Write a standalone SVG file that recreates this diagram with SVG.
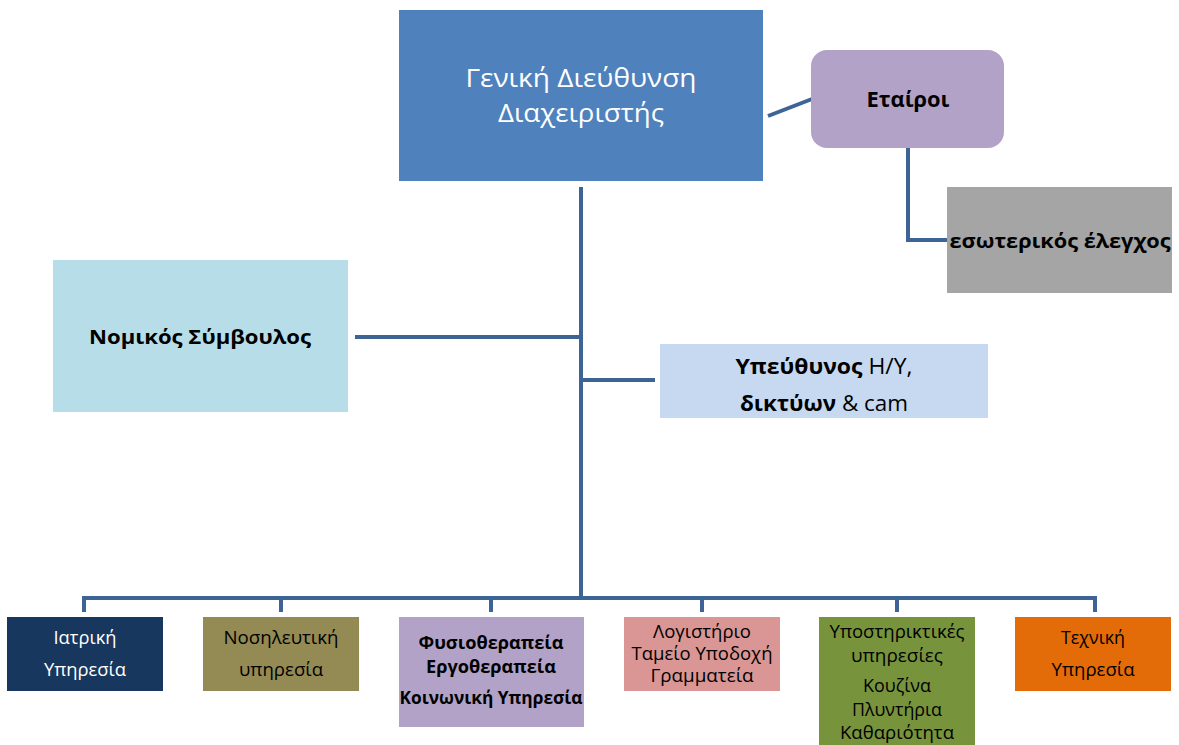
<svg xmlns="http://www.w3.org/2000/svg" width="1179" height="745" viewBox="0 0 1179 745">
<style>
text{font-family:"Open Sans","Noto Sans","Liberation Sans",sans-serif;text-anchor:middle;fill:#000}
.w{fill:#fff}
.b{font-weight:bold}
.s{font-size:18px}
.c{fill:none;stroke:#3e6496;stroke-width:4}
</style>
<rect width="1179" height="745" fill="#fff"/>
<g id="connectors">
<line class="c" x1="768" y1="116" x2="812" y2="99"/>
<polyline class="c" points="908,148 908,240 947,240"/>
<line class="c" x1="581" y1="187" x2="581" y2="598"/>
<line class="c" x1="355" y1="337" x2="581" y2="337"/>
<line class="c" x1="581" y1="380" x2="655" y2="380"/>
<polyline class="c" points="84,612 84,598 1095,598 1095,612"/>
<line class="c" x1="281" y1="598" x2="281" y2="612"/>
<line class="c" x1="491" y1="598" x2="491" y2="612"/>
<line class="c" x1="702" y1="598" x2="702" y2="612"/>
<line class="c" x1="897" y1="598" x2="897" y2="612"/>
</g>
<g id="gd">
<rect x="399" y="10" width="364" height="171" fill="#4f81bd"/>
<text class="w" x="581" y="87" font-size="25" textLength="231" lengthAdjust="spacingAndGlyphs">Γενική Διεύθυνση</text>
<text class="w" x="581" y="122" font-size="25" textLength="166" lengthAdjust="spacingAndGlyphs">Διαχειριστής</text>
</g>
<g id="etairoi">
<rect x="811" y="50" width="193" height="98" rx="16" fill="#b2a2c7"/>
<text class="b" x="908" y="107" font-size="21" textLength="83" lengthAdjust="spacingAndGlyphs">Εταίροι</text>
</g>
<g id="eswterikos">
<rect x="947" y="187" width="225" height="106" fill="#a5a5a5"/>
<text class="b" x="1060" y="248" font-size="20" textLength="221" lengthAdjust="spacingAndGlyphs">εσωτερικός έλεγχος</text>
</g>
<g id="nomikos">
<rect x="53" y="260" width="295" height="152" fill="#b7dee8"/>
<text class="b" x="200" y="344" font-size="20" textLength="222" lengthAdjust="spacingAndGlyphs">Νομικός Σύμβουλος</text>
</g>
<g id="ypeuthynos">
<rect x="660" y="344" width="328" height="74" fill="#c6d9f1"/>
<text x="824" y="374" font-size="21" textLength="177" lengthAdjust="spacingAndGlyphs"><tspan class="b">Υπεύθυνος</tspan> H/Y,</text>
<text x="824" y="411" font-size="21" textLength="168" lengthAdjust="spacingAndGlyphs"><tspan class="b">δικτύων</tspan> &amp; cam</text>
</g>
<g id="iatriki">
<rect x="7" y="617" width="156" height="74" fill="#17375e"/>
<text class="w s" x="85" y="644" textLength="63" lengthAdjust="spacingAndGlyphs">Ιατρική</text>
<text class="w s" x="85" y="676" textLength="82" lengthAdjust="spacingAndGlyphs">Υπηρεσία</text>
</g>
<g id="nosileutiki">
<rect x="203" y="617" width="156" height="74" fill="#948a54"/>
<text class="s" x="281" y="644" textLength="115" lengthAdjust="spacingAndGlyphs">Νοσηλευτική</text>
<text class="s" x="281" y="676" textLength="84" lengthAdjust="spacingAndGlyphs">υπηρεσία</text>
</g>
<g id="fysio">
<rect x="399" y="617" width="185" height="110" fill="#b2a2c7"/>
<text class="s b" x="491" y="649" textLength="145" lengthAdjust="spacingAndGlyphs">Φυσιοθεραπεία</text>
<text class="s b" x="491" y="673" textLength="130" lengthAdjust="spacingAndGlyphs">Εργοθεραπεία</text>
<text class="s b" x="491" y="704" textLength="183" lengthAdjust="spacingAndGlyphs">Κοινωνική Υπηρεσία</text>
</g>
<g id="logistirio">
<rect x="624" y="617" width="156" height="74" fill="#d99694"/>
<text class="s" x="702" y="638" textLength="98" lengthAdjust="spacingAndGlyphs">Λογιστήριο</text>
<text class="s" x="702" y="660" textLength="141" lengthAdjust="spacingAndGlyphs">Ταμείο Υποδοχή</text>
<text class="s" x="702" y="682" textLength="103" lengthAdjust="spacingAndGlyphs">Γραμματεία</text>
</g>
<g id="ypostiriktikes">
<rect x="819" y="617" width="156" height="128" fill="#77933c"/>
<text class="s" x="897" y="638" textLength="135" lengthAdjust="spacingAndGlyphs">Υποστηρικτικές</text>
<text class="s" x="897" y="662" textLength="92" lengthAdjust="spacingAndGlyphs">υπηρεσίες</text>
<text class="s" x="897" y="692" textLength="68" lengthAdjust="spacingAndGlyphs">Κουζίνα</text>
<text class="s" x="897" y="716" textLength="90" lengthAdjust="spacingAndGlyphs">Πλυντήρια</text>
<text class="s" x="897" y="739" textLength="114" lengthAdjust="spacingAndGlyphs">Καθαριότητα</text>
</g>
<g id="texniki">
<rect x="1015" y="617" width="156" height="74" fill="#e36c09"/>
<text class="s" x="1093" y="644" textLength="64" lengthAdjust="spacingAndGlyphs">Τεχνική</text>
<text class="s" x="1093" y="676" textLength="83" lengthAdjust="spacingAndGlyphs">Υπηρεσία</text>
</g>
</svg>
